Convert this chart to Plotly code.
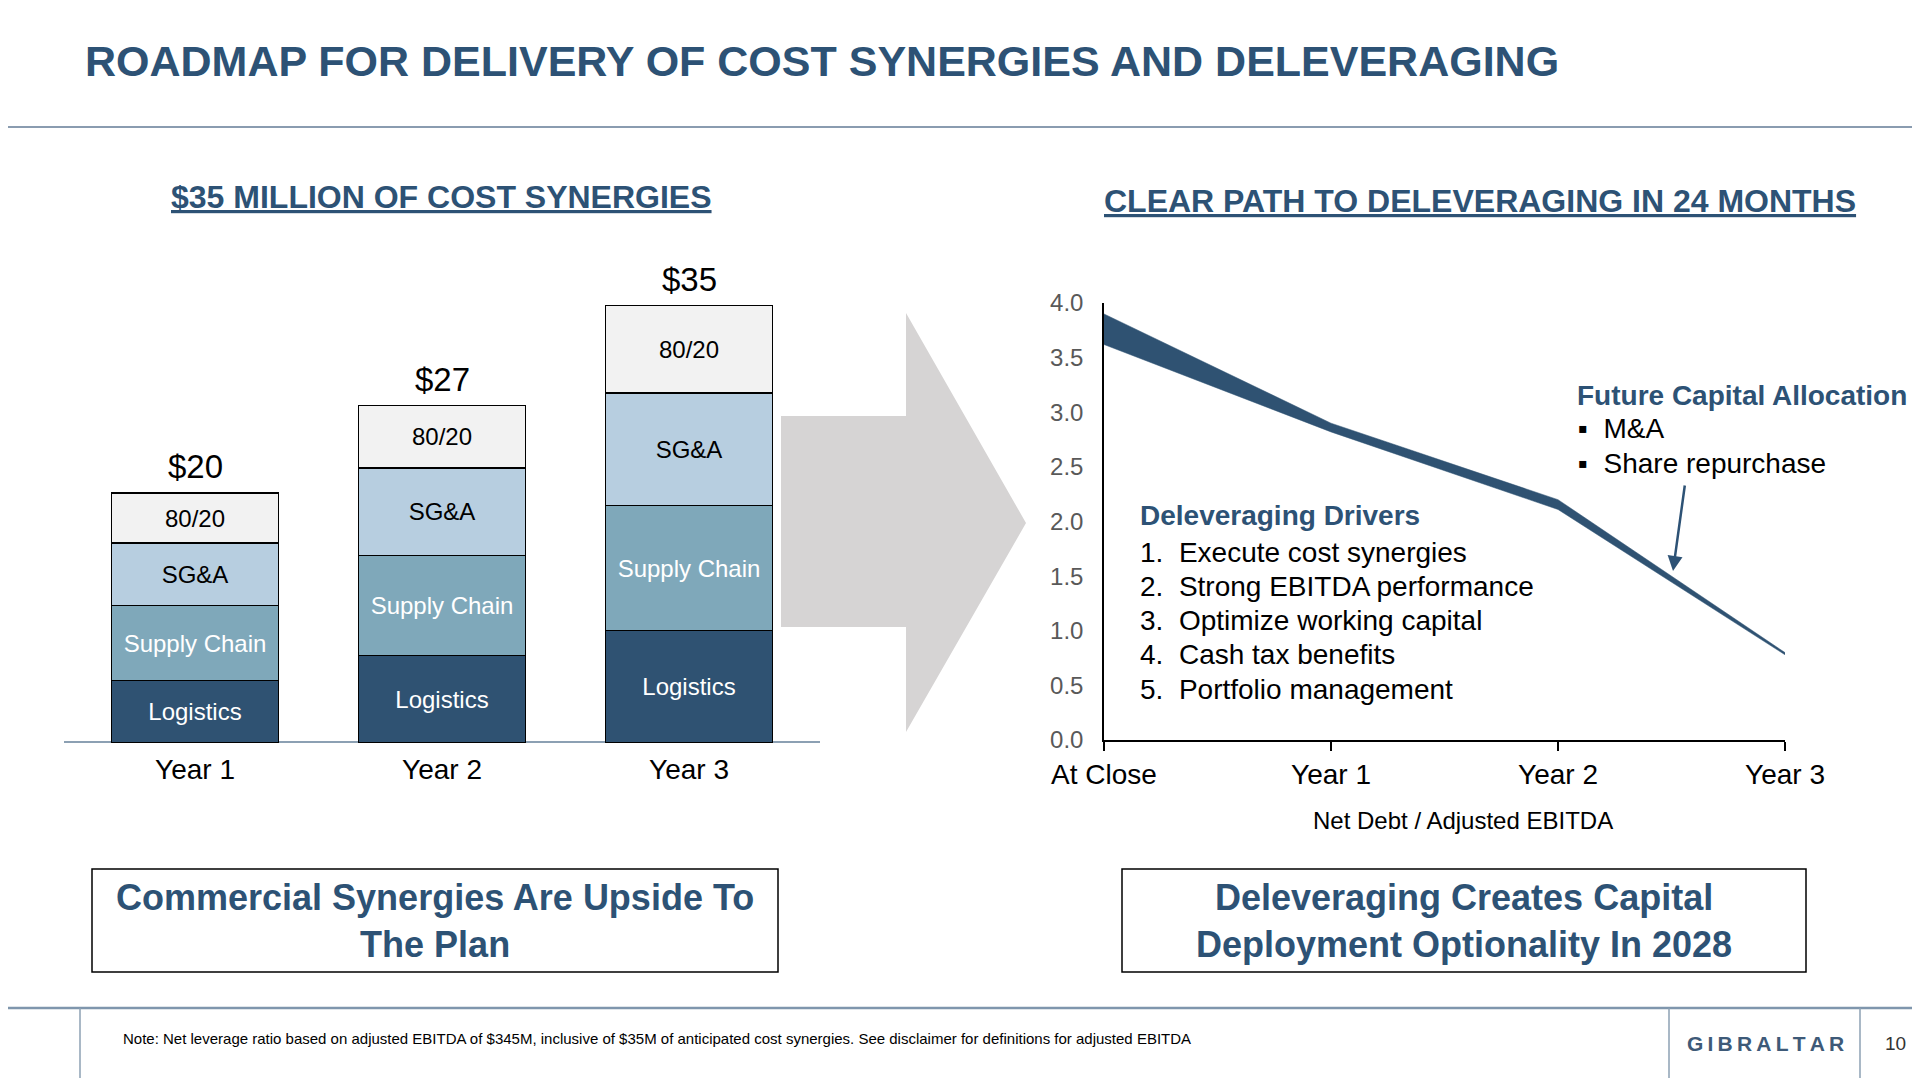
import plotly.graph_objects as go

# page puts the figure 8px in from the top-left corner
OFF = 8
W, H = 1920 - OFF, 1078 - OFF

# --- data: cost synergies ($M) ---
years = ["Year 1", "Year 2", "Year 3"]
logistics = [5, 7, 9]
supply_chain = [6, 8, 10]
sga = [5, 7, 9]
eighty_twenty = [4, 5, 7]
totals = [20, 27, 35]

# --- data: net debt / adjusted EBITDA band ---
lev_labels = ["At Close", "Year 1", "Year 2", "Year 3"]
lev_x = [0, 1, 2, 3]
lev_upper = [3.9, 2.9, 2.2, 0.8]
lev_lower = [3.62, 2.82, 2.11, 0.78]

drivers = ["Execute cost synergies", "Strong EBITDA performance",
           "Optimize working capital", "Cash tax benefits", "Portfolio management"]
allocation = ["M&A", "Share repurchase"]

NAVY = "#2D5275"
FONT = "Liberation Sans, Arial, sans-serif"


def px(x):
    return (x - OFF) / W


def py(y):
    return 1 - (y - OFF) / H


fig = go.Figure()

seg_colors = {"Logistics": "#2F5272", "Supply Chain": "#7FA8BA",
              "SG&A": "#B7CEE0", "80/20": "#F2F2F2"}
seg_text = {"Logistics": "white", "Supply Chain": "white",
            "SG&A": "black", "80/20": "black"}

for name, vals in [("Logistics", logistics), ("Supply Chain", supply_chain),
                   ("SG&A", sga), ("80/20", eighty_twenty)]:
    fig.add_trace(go.Bar(
        x=years, y=vals, name=name,
        marker=dict(color=seg_colors[name], line=dict(color="black", width=1.5)),
        text=[name] * len(vals), texttemplate="%{text}",
        textposition="inside", insidetextanchor="middle", textangle=0,
        textfont=dict(size=24, color=seg_text[name], family=FONT),
        xaxis="x", yaxis="y", showlegend=False, hoverinfo="skip",
    ))

# leverage band
fig.add_trace(go.Scatter(
    x=lev_x, y=lev_lower, mode="lines", line=dict(color="#2F5272", width=0.5),
    xaxis="x2", yaxis="y2", showlegend=False, hoverinfo="skip",
))
fig.add_trace(go.Scatter(
    x=lev_x, y=lev_upper, mode="lines", line=dict(color="#2F5272", width=0.5),
    fill="tonexty", fillcolor="#2F5272",
    xaxis="x2", yaxis="y2", showlegend=False, hoverinfo="skip",
))

annotations = []

# totals above bars
for yr, t in zip(years, totals):
    annotations.append(dict(x=yr, y=t, xref="x", yref="y", text=f"${t}",
                            showarrow=False, yanchor="bottom", yshift=6,
                            font=dict(size=33, color="black", family=FONT)))

# title & subtitles
annotations.append(dict(x=px(83), y=py(61), xref="paper", yref="paper",
                        text="<b>ROADMAP FOR DELIVERY OF COST SYNERGIES AND DELEVERAGING</b>",
                        showarrow=False, xanchor="left", yanchor="middle",
                        font=dict(size=43, color=NAVY, family=FONT)))
annotations.append(dict(x=px(441), y=py(197), xref="paper", yref="paper",
                        text="<b><u>$35 MILLION OF COST SYNERGIES</u></b>",
                        showarrow=False, xanchor="center", yanchor="middle",
                        font=dict(size=32, color=NAVY, family=FONT)))
annotations.append(dict(x=px(1480), y=py(201), xref="paper", yref="paper",
                        text="<b><u>CLEAR PATH TO DELEVERAGING IN 24 MONTHS</u></b>",
                        showarrow=False, xanchor="center", yanchor="middle",
                        font=dict(size=32, color=NAVY, family=FONT)))

# leverage chart text
annotations.append(dict(x=px(1138), y=py(516), xref="paper", yref="paper",
                        text="<b>Deleveraging Drivers</b>", showarrow=False,
                        xanchor="left", yanchor="middle",
                        font=dict(size=28, color=NAVY, family=FONT)))
for i, d in enumerate(drivers):
    annotations.append(dict(x=px(1138), y=py(552 + 34.3 * i), xref="paper", yref="paper",
                            text=f"{i + 1}.  {d}", showarrow=False,
                            xanchor="left", yanchor="middle",
                            font=dict(size=28, color="black", family=FONT)))
annotations.append(dict(x=px(1575), y=py(395), xref="paper", yref="paper",
                        text="<b>Future Capital Allocation</b>", showarrow=False,
                        xanchor="left", yanchor="middle",
                        font=dict(size=28, color=NAVY, family=FONT)))
for i, a in enumerate(allocation):
    annotations.append(dict(x=px(1576), y=py(428 + 35 * i), xref="paper", yref="paper",
                            text=f"▪  {a}", showarrow=False,
                            xanchor="left", yanchor="middle",
                            font=dict(size=28, color="black", family=FONT)))
# arrow pointing at the line
annotations.append(dict(x=px(1673), y=py(571), ax=12, ay=-87,
                        xref="paper", yref="paper", axref="pixel", ayref="pixel",
                        text="", showarrow=True, arrowhead=2, arrowsize=1.2,
                        arrowwidth=2.5, arrowcolor=NAVY))
annotations.append(dict(x=px(1463), y=py(820), xref="paper", yref="paper",
                        text="Net Debt / Adjusted EBITDA", showarrow=False,
                        xanchor="center", yanchor="middle",
                        font=dict(size=24, color="black", family=FONT)))

# bottom boxes
annotations.append(dict(x=px(435), y=py(921), xref="paper", yref="paper",
                        text="<b>Commercial Synergies Are Upside To<br>The Plan</b>",
                        showarrow=False, xanchor="center", yanchor="middle",
                        font=dict(size=36, color=NAVY, family=FONT)))
annotations.append(dict(x=px(1464), y=py(921), xref="paper", yref="paper",
                        text="<b>Deleveraging Creates Capital<br>Deployment Optionality In 2028</b>",
                        showarrow=False, xanchor="center", yanchor="middle",
                        font=dict(size=36, color=NAVY, family=FONT)))

# footer
annotations.append(dict(x=px(121), y=py(1038), xref="paper", yref="paper",
                        text="Note: Net leverage ratio based on adjusted EBITDA of $345M, inclusive of $35M of anticipated cost synergies. See disclaimer for definitions for adjusted EBITDA",
                        showarrow=False, xanchor="left", yanchor="middle",
                        font=dict(size=15, color="black", family=FONT)))
annotations.append(dict(x=px(1765), y=py(1043), xref="paper", yref="paper",
                        text="<b>" + "\u2009".join("GIBRALTAR") + "</b>", showarrow=False,
                        xanchor="center", yanchor="middle",
                        font=dict(size=21, color="#3E5A78", family=FONT)))
annotations.append(dict(x=px(1895), y=py(1043), xref="paper", yref="paper",
                        text="10", showarrow=False, xanchor="center", yanchor="middle",
                        font=dict(size=19, color="#333333", family=FONT)))

shapes = []
# title rule
shapes.append(dict(type="line", xref="paper", yref="paper", x0=px(0), x1=px(1920),
                   y0=py(127), y1=py(127), line=dict(color="#8A9CB0", width=2)))
# bar baseline
shapes.append(dict(type="line", xref="paper", yref="paper", x0=px(64), x1=px(820),
                   y0=py(742), y1=py(742), line=dict(color="#8CA0B3", width=2), layer="below"))
# grey chevron arrow
chevron = [(781, 416), (906, 416), (906, 313), (1026, 523), (906, 732), (906, 627), (781, 627)]
path = "M " + " L ".join(f"{px(a):.5f},{py(b):.5f}" for a, b in chevron) + " Z"
shapes.append(dict(type="path", xref="paper", yref="paper", path=path,
                   fillcolor="#D6D4D4", line=dict(width=0), layer="below"))
# boxes
for x0, x1 in [(92, 778), (1122, 1806)]:
    shapes.append(dict(type="rect", xref="paper", yref="paper",
                       x0=px(x0), x1=px(x1), y0=py(972), y1=py(869),
                       line=dict(color="black", width=1.5), fillcolor="rgba(0,0,0,0)"))
# footer rules
shapes.append(dict(type="line", xref="paper", yref="paper", x0=px(0), x1=px(1920),
                   y0=py(1008), y1=py(1008), line=dict(color="#7F96AD", width=2.5)))
for xv in [80, 1669, 1860]:
    shapes.append(dict(type="line", xref="paper", yref="paper", x0=px(xv), x1=px(xv),
                       y0=py(1008), y1=0, line=dict(color="#8CA0B3", width=1.5)))

fig.update_layout(
    width=W, height=H,
    margin=dict(l=0, r=0, t=0, b=0, autoexpand=False),
    paper_bgcolor="white", plot_bgcolor="rgba(0,0,0,0)",
    barmode="stack", bargap=0.324,
    font=dict(family=FONT),
    uniformtext=dict(minsize=20, mode="show"),
    xaxis=dict(domain=[px(71.5), px(812.5)], showline=False, showgrid=False,
               zeroline=False, ticks="", ticklabelstandoff=7, automargin=False,
               tickfont=dict(size=28, color="black", family=FONT)),
    yaxis=dict(domain=[py(743), py(243)], range=[0, 40], visible=False,
               automargin=False),
    xaxis2=dict(domain=[px(1104), px(1785)], range=[0, 3], anchor="y2",
                tickvals=lev_x, ticktext=lev_labels, showline=True, automargin=False,
                linecolor="black", linewidth=1.5, ticks="outside", ticklen=9,
                tickcolor="black", tickwidth=1.5, showgrid=False, zeroline=False,
                tickfont=dict(size=28, color="black", family=FONT)),
    yaxis2=dict(domain=[py(740), py(303)], range=[0, 4], anchor="x2",
                tickvals=[0, 0.5, 1, 1.5, 2, 2.5, 3, 3.5, 4], automargin=False,
                tickformat=".1f", showline=True, linecolor="black", linewidth=1.5,
                ticks="", showgrid=False, zeroline=False, ticklabelstandoff=14,
                tickfont=dict(size=24, color="#595959", family=FONT)),
    annotations=annotations,
    shapes=shapes,
)

fig.write_html("out.html")
